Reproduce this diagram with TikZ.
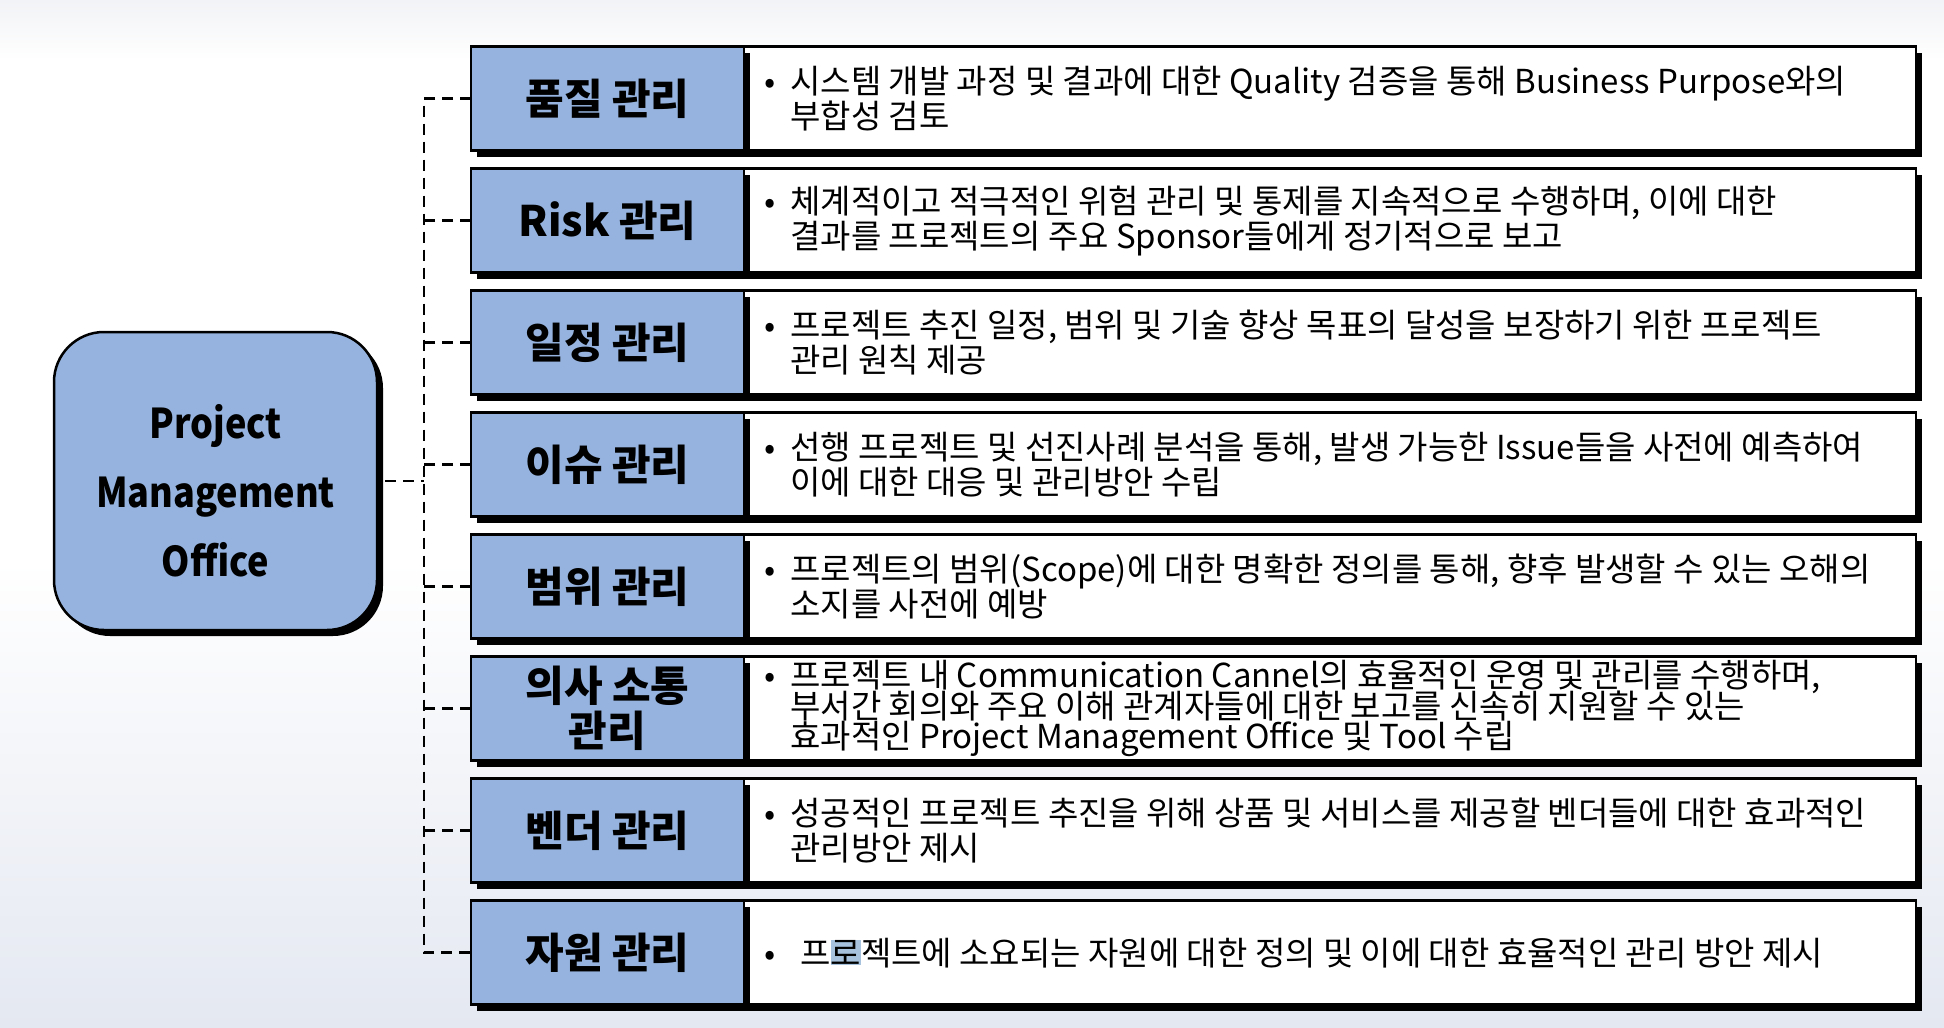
\documentclass[tikz,border=0pt]{standalone}
\usepackage{fontspec}
\setmainfont{Noto Sans CJK KR}
\newfontfamily\pmofont{Noto Sans CJK KR}[FakeStretch=0.88]
\usetikzlibrary{shadows}
\definecolor{lblue}{RGB}{149,179,222}
\definecolor{bgbot}{RGB}{228,232,241}
\definecolor{bgtop}{RGB}{242,243,246}
\definecolor{hl}{RGB}{166,194,220}
\newcommand\bul{\makebox[13pt][l]{•}}
\newcommand\ind{\hspace*{13pt}}
\newcommand\dfont{\fontsize{16.5pt}{17.5pt}\selectfont\lineskiplimit=-30pt\lineskip=0pt}
\newcommand\dfontb{\fontsize{16.5pt}{15.3pt}\selectfont\lineskiplimit=-30pt\lineskip=0pt}
\begin{document}
\begin{tikzpicture}[x=0.5pt,y=-0.5pt,
  shd/.style={general shadow={fill=black, shadow xshift=3pt, shadow yshift=-3pt}},
  lbl/.style={draw, line width=1.25pt, fill=lblue, minimum width=136.5pt, minimum height=52pt,
    inner sep=0pt, outer sep=0pt, anchor=north west, align=center,
    font=\fontsize{21pt}{22.5pt}\selectfont\bfseries, shd},
  dsc/.style={draw, line width=1.25pt, fill=white, minimum width=586pt, minimum height=52pt,
    inner sep=0pt, outer sep=0pt, anchor=north west, shd},
  txt/.style={anchor=west, inner sep=0pt, align=left, font=\dfont},
  conn/.style={line width=1.4pt, dash pattern=on 5.5pt off 3.5pt},
  pmo/.style={draw, line width=1.25pt, fill=lblue, rounded corners=25pt, minimum width=161.5pt,
    minimum height=149pt, inner sep=0pt, shd},
  pmotxt/.style={inner sep=0pt, align=center,
    font=\pmofont\bfseries\fontsize{20.5pt}{34.5pt}\selectfont}]
\useasboundingbox (0,0) rectangle (1944,1028);
\fill[white] (0,0) rectangle (1944,1028);
\shade[top color=bgtop, bottom color=white] (0,0) rectangle (1944,60);
\shade[top color=white, bottom color=bgbot] (0,560) rectangle (1944,1028);

\coordinate (bus) at (424,0);

% rows
\node[dsc] (d1) at (744,46.7) {};
\node[lbl] (l1) at (471,46.7) {품질 관리};
\node[dsc] (d2) at (744,168.7) {};
\node[lbl] (l2) at (471,168.7) {Risk 관리};
\node[dsc] (d3) at (744,290.7) {};
\node[lbl] (l3) at (471,290.7) {일정 관리};
\node[dsc] (d4) at (744,412.7) {};
\node[lbl] (l4) at (471,412.7) {이슈 관리};
\node[dsc] (d5) at (744,534.7) {};
\node[lbl] (l5) at (471,534.7) {범위 관리};
\node[dsc] (d6) at (744,656.7) {};
\node[lbl] (l6) at (471,656.7) {의사 소통\\관리};
\node[dsc] (d7) at (744,778.7) {};
\node[lbl] (l7) at (471,778.7) {벤더 관리};
\node[dsc] (d8) at (744,900.7) {};
\node[lbl] (l8) at (471,900.7) {자원 관리};

\node[txt] (t1) at ([xshift=10pt]d1.west) {\bul 시스템 개발 과정 및 결과에 대한 Quality 검증을 통해 Business Purpose와의\\ \ind 부합성 검토};
\node[txt] (t2) at ([xshift=10pt]d2.west) {\bul 체계적이고 적극적인 위험 관리 및 통제를 지속적으로 수행하며, 이에 대한\\ \ind 결과를 프로젝트의 주요 Sponsor들에게 정기적으로 보고};
\node[txt] (t3) at ([xshift=10pt]d3.west) {\bul 프로젝트 추진 일정, 범위 및 기술 향상 목표의 달성을 보장하기 위한 프로젝트\\ \ind 관리 원칙 제공};
\node[txt] (t4) at ([xshift=10pt]d4.west) {\bul 선행 프로젝트 및 선진사례 분석을 통해, 발생 가능한 Issue들을 사전에 예측하여\\ \ind 이에 대한 대응 및 관리방안 수립};
\node[txt] (t5) at ([xshift=10pt]d5.west) {\bul 프로젝트의 범위(Scope)에 대한 명확한 정의를 통해, 향후 발생할 수 있는 오해의\\ \ind 소지를 사전에 예방};
\node[txt, font=\dfontb] (t6) at ([xshift=10pt]d6.west) {\bul 프로젝트 내 Communication Cannel의 효율적인 운영 및 관리를 수행하며,\\ \ind 부서간 회의와 주요 이해 관계자들에 대한 보고를 신속히 지원할 수 있는\\ \ind 효과적인 Project Management Office 및 Tool 수립};
\node[txt] (t7) at ([xshift=10pt]d7.west) {\bul 성공적인 프로젝트 추진을 위해 상품 및 서비스를 제공할 벤더들에 대한 효과적인\\ \ind 관리방안 제시};
\node[txt] (t8) at ([xshift=10pt]d8.west) {\bul\hspace{5pt}프{\setlength{\fboxsep}{0pt}\colorbox{hl}{로}}젝트에 소요되는 자원에 대한 정의 및 이에 대한 효율적인 관리 방안 제시};

% PMO
\node[pmo] (pmo) at (215.5,481) {};
\node[pmotxt] (pmot) at ([yshift=-5pt]pmo.center) {Project\\Management\\Office};

% connectors
\draw[conn] (l1.west) -- (l1.west -| bus) -- (l8.west -| bus) -- (l8.west);
\draw[conn] (l2.west) -- (l2.west -| bus);
\draw[conn] (l3.west) -- (l3.west -| bus);
\draw[conn] (l4.west) -- (l4.west -| bus);
\draw[conn] (l5.west) -- (l5.west -| bus);
\draw[conn] (l6.west) -- (l6.west -| bus);
\draw[conn] (l7.west) -- (l7.west -| bus);
\draw[conn] ([xshift=3.5pt]pmo.east) -- (pmo.east -| bus);
\end{tikzpicture}
\end{document}
